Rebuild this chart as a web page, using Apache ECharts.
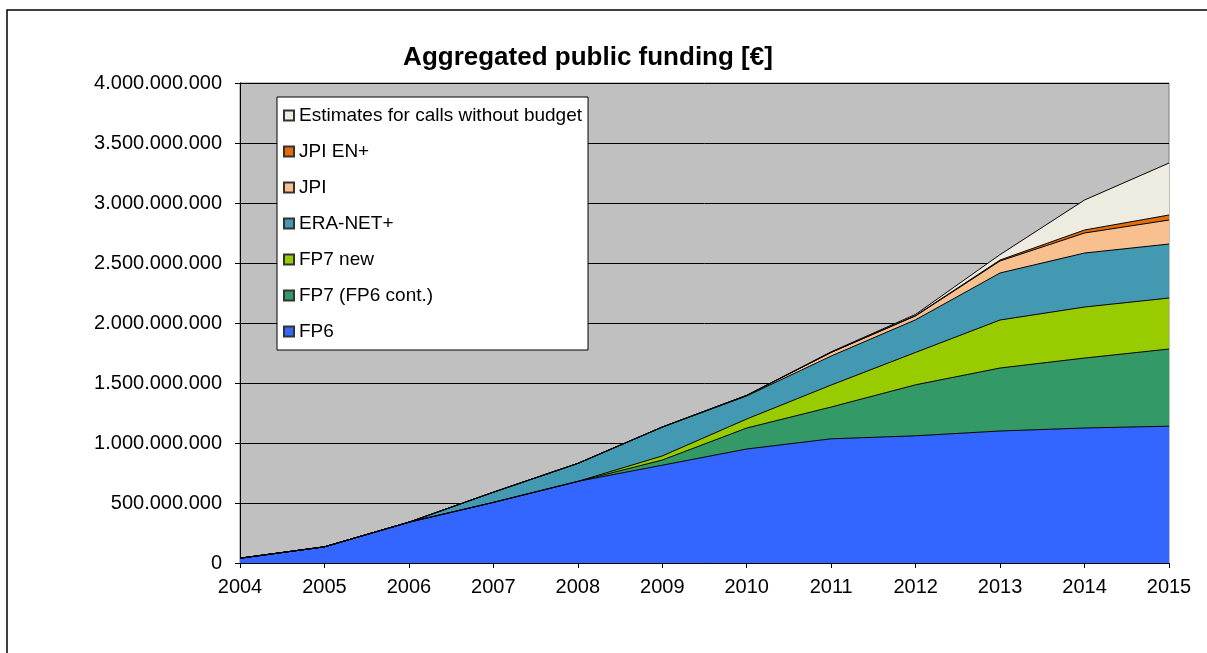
<!DOCTYPE html>
<html>
<head>
    <meta charset="utf-8">
    <title>Aggregated public funding</title>
    <script src="https://cdn.jsdelivr.net/npm/echarts@6/dist/echarts.min.js"></script>
    <style>
        body { margin: 0; background: #fff; }
    </style>
</head>
<body>
    <div id="main" style="width: 1207px;height:653px;"></div>
    <script type="text/javascript">
    // values in million EUR
    var years = ['2004', '2005', '2006', '2007', '2008', '2009', '2010', '2011', '2012', '2013', '2014', '2015'];
    var fp6 = [40, 135, 340, 505, 680, 815, 950, 1035, 1060, 1100, 1125, 1140];
    var fp7Cont = [0, 0, 0, 0, 0, 43, 175, 265, 425, 525, 583, 643];
    var fp7New = [0, 0, 0, 0, 0, 34, 75, 183, 270, 400, 425, 425];
    var eraNet = [0, 0, 0, 85, 150, 241, 192, 242, 272, 392, 450, 450];
    var jpi = [0, 0, 0, 0, 0, 0, 5, 30, 32, 100, 167, 200];
    var jpiEn = [0, 0, 0, 0, 0, 0, 0, 0, 3, 8, 25, 42];
    var estimates = [0, 0, 0, 0, 0, 0, 0, 5, 10, 45, 250, 433];

    var names = ['FP6', 'FP7 (FP6 cont.)', 'FP7 new', 'ERA-NET+', 'JPI', 'JPI EN+', 'Estimates for calls without budget'];
    var colors = ['#3366ff', '#339966', '#99cc00', '#4299b1', '#f9c08f', '#e46c0a', '#eeece1'];
    var values = [fp6, fp7Cont, fp7New, eraNet, jpi, jpiEn, estimates];

    var font = '"Liberation Sans", Arial, sans-serif';

    function dots(v) {
        return String(v).replace(/\B(?=(\d{3})+(?!\d))/g, '.');
    }

    var series = names.map(function (n, i) {
        return {
            name: n,
            type: 'line',
            stack: 'total',
            symbol: 'none',
            color: colors[i],
            lineStyle: { color: '#000', width: 1 },
            areaStyle: { color: colors[i], opacity: 1 },
            itemStyle: { color: colors[i], borderColor: '#333', borderWidth: 1 },
            data: values[i].map(function (v) { return v * 1e6; })
        };
    });

    var myChart = echarts.init(document.getElementById('main'));
    var option = {
        animation: false,
        title: {
            text: 'Aggregated public funding [€]',
            left: 583,
            textAlign: 'center',
            top: 40,
            textStyle: { fontFamily: font, fontSize: 26, fontWeight: 'bold', color: '#000' }
        },
        graphic: [{
            type: 'rect',
            shape: { x: 7, y: 10, width: 1300, height: 700 },
            style: { fill: 'none', stroke: '#000', lineWidth: 1.5 },
            silent: true
        }],
        legend: {
            orient: 'vertical',
            left: 277,
            top: 97,
            data: names.slice().reverse(),
            icon: 'rect',
            itemWidth: 10,
            itemHeight: 10,
            itemGap: 17,
            padding: [9, 6, 9, 6],
            backgroundColor: '#fff',
            borderColor: '#000',
            borderWidth: 1,
            selectedMode: false,
            textStyle: { fontFamily: font, fontSize: 19, color: '#000' }
        },
        grid: {
            left: 240,
            right: 38,
            top: 83,
            bottom: 90,
            show: true,
            backgroundColor: '#c0c0c0',
            borderColor: '#808080',
            borderWidth: 1
        },
        xAxis: {
            type: 'category',
            data: years,
            boundaryGap: false,
            axisLine: { lineStyle: { color: '#000', width: 1 } },
            axisTick: { lineStyle: { color: '#000' }, length: 5 },
            axisLabel: { fontFamily: font, fontSize: 20, color: '#000', margin: 14 }
        },
        yAxis: {
            type: 'value',
            min: 0,
            max: 4000000000,
            interval: 500000000,
            axisLine: { show: true, lineStyle: { color: '#000', width: 1 } },
            axisTick: { show: true, lineStyle: { color: '#000' }, length: 5 },
            splitLine: { lineStyle: { color: '#000', width: 1 } },
            axisLabel: {
                fontFamily: font,
                fontSize: 20,
                color: '#000',
                margin: 18,
                formatter: function (v) { return dots(v); }
            }
        },
        series: series
    };
    myChart.setOption(option);
    </script>
</body>
</html>
